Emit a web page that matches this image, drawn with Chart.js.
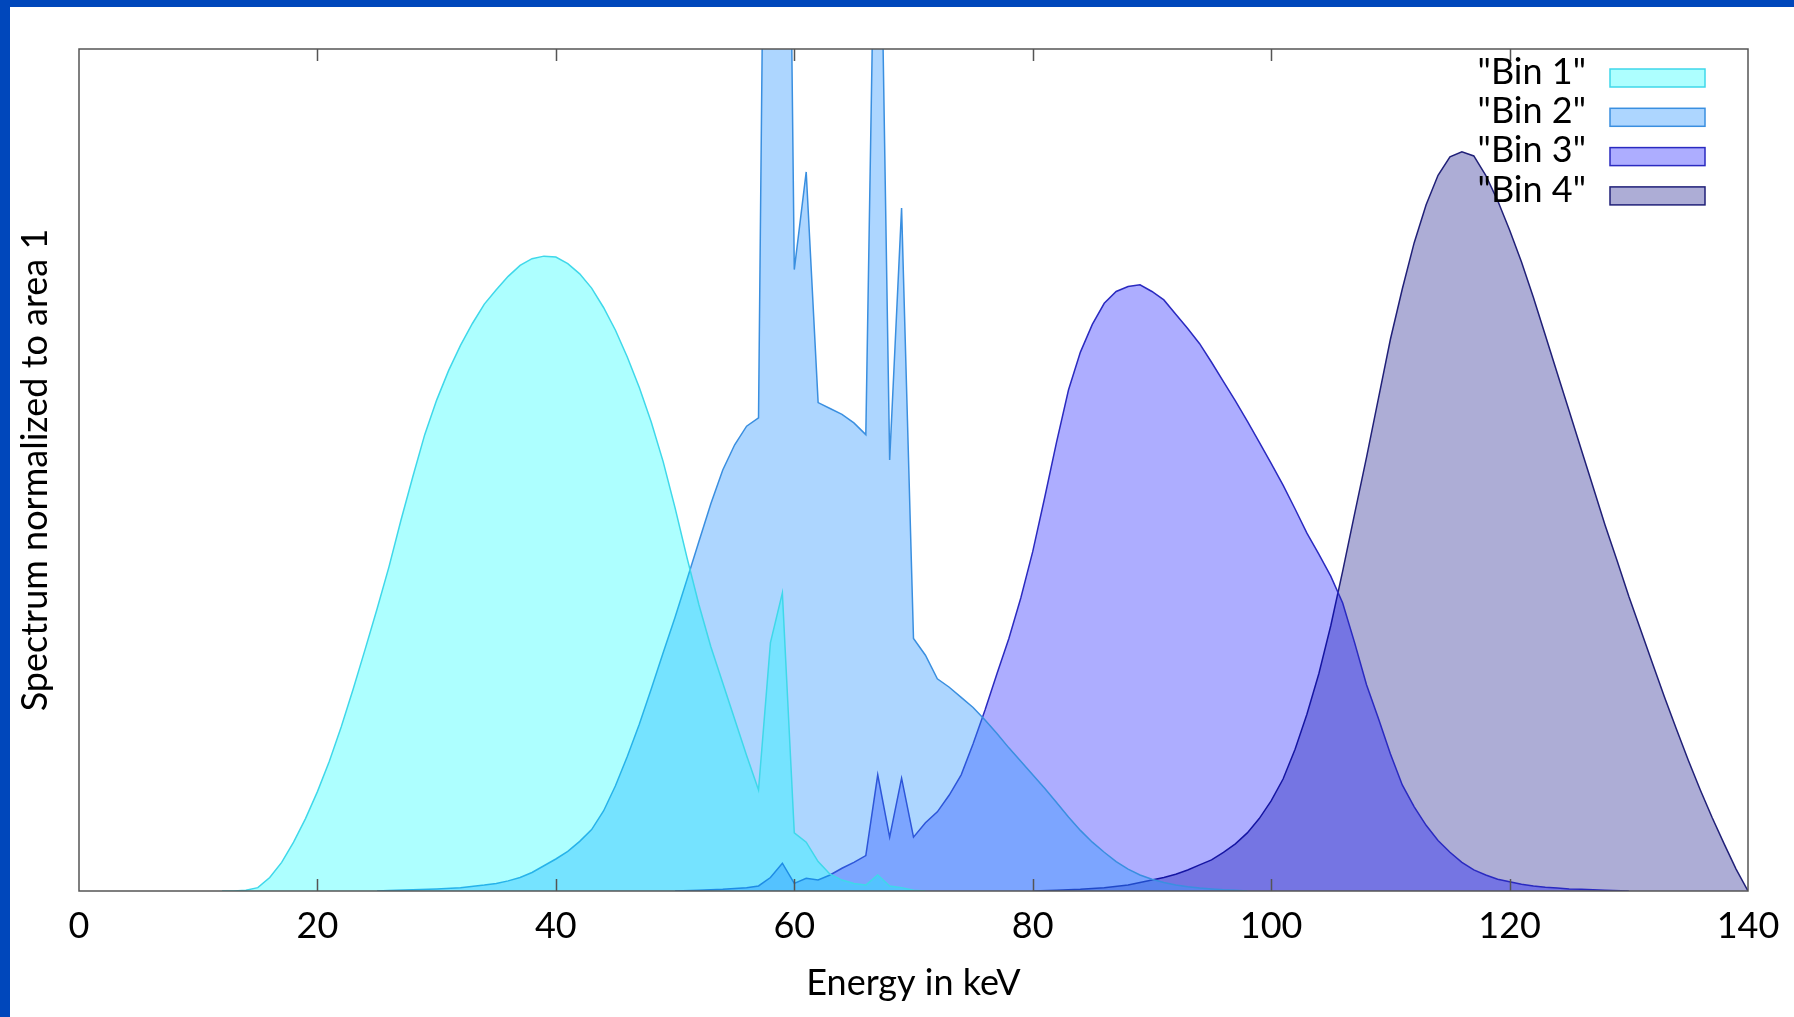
<!DOCTYPE html>
<html>
<head>
<meta charset="utf-8">
<script src="https://cdn.jsdelivr.net/npm/chart.js@4.4.1/dist/chart.umd.min.js"></script>
<style>
  html, body { margin: 0; padding: 0; background: #fff; }
  canvas { display: block; }
</style>
</head>
<body>
<canvas id="myChart" width="1794" height="1017"></canvas>
<script>
// energy (keV) and counts (y axis: arbitrary units, 0..100 = frame height)
const bin1E = [12, 13, 14, 15, 16, 17, 18, 19, 20, 21, 22, 23, 24, 25, 26, 27, 28, 29, 30, 31, 32, 33, 34, 35, 36, 37, 38, 39, 40, 41, 42, 43, 44, 45, 46, 47, 48, 49, 50, 51, 52, 53, 54, 55, 56, 57, 58, 59, 60, 61, 62, 63, 64, 65, 66, 67, 68, 69, 70, 71];
const bin1Y = [0, 0, 0.1, 0.4, 1.6, 3.4, 5.8, 8.6, 11.8, 15.4, 19.5, 24, 28.7, 33.5, 38.5, 44, 49.2, 54.2, 58.3, 61.8, 64.8, 67.4, 69.7, 71.4, 73, 74.3, 75.1, 75.4, 75.3, 74.5, 73.3, 71.6, 69.3, 66.6, 63.4, 59.8, 55.7, 51, 45.5, 39.6, 34, 29, 24.7, 20.4, 16.1, 12, 29.5, 35.4, 6.9, 5.8, 3.5, 2, 1.3, 0.9, 0.7, 1.9, 0.6, 0.4, 0.1, 0];

const bin2E = [25, 26, 28, 30, 32, 34, 35, 36, 37, 38, 39, 40, 41, 42, 43, 44, 45, 46, 47, 48, 49, 50, 51, 52, 53, 54, 55, 56, 57, 58, 59, 60, 61, 62, 63, 64, 65, 66, 67, 68, 69, 70, 71, 72, 73, 74, 75, 76, 77, 78, 79, 80, 81, 82, 83, 84, 85, 86, 87, 88, 89, 90, 91, 92, 93, 94, 95, 96, 97, 98];
const bin2Y = [0, 0.05, 0.15, 0.25, 0.4, 0.7, 0.9, 1.2, 1.6, 2.2, 3, 3.8, 4.7, 5.9, 7.3, 9.5, 12.5, 16, 19.8, 24, 28.3, 32.5, 37, 41.5, 46, 50, 53, 55.2, 56.2, 200, 200, 73.8, 85.4, 58, 57.3, 56.6, 55.6, 54.2, 140, 51.2, 81.1, 30, 28, 25.2, 24.2, 23, 21.8, 20.3, 18.7, 17, 15.4, 13.8, 12.2, 10.5, 8.8, 7.2, 5.8, 4.6, 3.5, 2.6, 1.9, 1.4, 1, 0.7, 0.5, 0.35, 0.25, 0.15, 0.1, 0];

const bin3E = [50, 52, 54, 56, 57, 58, 59, 60, 61, 62, 63, 64, 65, 66, 67, 68, 69, 70, 71, 72, 73, 74, 75, 76, 77, 78, 79, 80, 81, 82, 83, 84, 85, 86, 87, 88, 89, 90, 91, 92, 93, 94, 95, 96, 97, 98, 99, 100, 101, 102, 103, 104, 105, 106, 107, 108, 109, 110, 111, 112, 113, 114, 115, 116, 117, 118, 119, 120, 121, 122, 123, 124, 125, 126, 128, 130];
const bin3Y = [0, 0.1, 0.2, 0.4, 0.6, 1.6, 3.3, 0.9, 1.5, 1.3, 1.9, 2.7, 3.4, 4.2, 13.8, 6.4, 13.4, 6.4, 8.1, 9.4, 11.4, 13.8, 17.5, 21.5, 25.8, 30, 34.8, 40.3, 46.7, 53.3, 59.5, 64, 67.3, 69.8, 71.2, 71.8, 72, 71.2, 70.2, 68.5, 66.8, 65, 62.8, 60.5, 58.2, 55.8, 53.3, 50.8, 48.2, 45.4, 42.5, 40, 37.4, 34.2, 29.5, 24.5, 20.5, 16.3, 12.6, 10, 7.8, 6, 4.6, 3.4, 2.5, 1.9, 1.4, 1.1, 0.8, 0.6, 0.45, 0.35, 0.25, 0.2, 0.1, 0];

const bin4E = [80, 82, 84, 86, 88, 89, 90, 91, 92, 93, 94, 95, 96, 97, 98, 99, 100, 101, 102, 103, 104, 105, 106, 107, 108, 109, 110, 111, 112, 113, 114, 115, 116, 117, 118, 119, 120, 121, 122, 123, 124, 125, 126, 127, 128, 129, 130, 131, 132, 133, 134, 135, 136, 137, 138, 139, 140];
const bin4Y = [0, 0.1, 0.2, 0.4, 0.7, 1, 1.3, 1.6, 2, 2.5, 3.1, 3.7, 4.6, 5.6, 6.9, 8.6, 10.7, 13.3, 16.8, 21, 25.8, 31.5, 38, 44.8, 51.5, 58.5, 65.5, 71.5, 77, 81.5, 85, 87.2, 87.8, 87.3, 85, 82, 78.5, 74.7, 70.5, 66, 61.5, 57, 52.5, 48, 43.5, 39.3, 35, 31, 27, 23, 19.2, 15.5, 12, 8.7, 5.6, 2.6, 0];

const binLabels = ['"Bin 1"', '"Bin 2"', '"Bin 3"', '"Bin 4"'];
const xTicks = [0, 20, 40, 60, 80, 100, 120, 140];

const FONT = 'Lato';

function pts(xs, ys) {
  return xs.map((x, i) => ({ x: x, y: ys[i] }));
}

function ds(label, xs, ys, fillCol, lineCol) {
  return {
    label: label,
    data: pts(xs, ys),
    backgroundColor: fillCol,
    borderColor: lineCol,
    borderWidth: 1.5,
    pointRadius: 0,
    tension: 0,
    fill: 'origin',
    clip: 0
  };
}

const pageBg = {
  id: 'pageBg',
  beforeDraw(chart) {
    const c = chart.ctx;
    c.save();
    c.fillStyle = '#ffffff';
    c.fillRect(0, 0, chart.width, chart.height);
    c.fillStyle = '#0047bb';
    c.fillRect(0, 0, chart.width, 7);
    c.fillRect(0, 0, 10, chart.height);
    c.restore();
  }
};

// frame, inward ticks and the key in the top right corner
const frameAndKey = {
  id: 'frameAndKey',
  afterDatasetsDraw(chart) {
    const c = chart.ctx;
    const a = chart.chartArea;
    const xs = chart.scales.x;
    c.save();
    c.strokeStyle = '#555';
    c.lineWidth = 1.5;
    c.strokeRect(a.left, a.top, a.right - a.left, a.bottom - a.top);
    c.beginPath();
    xTicks.forEach(t => {
      const px = Math.round(xs.getPixelForValue(t)) + 0.5;
      if (t === 0 || t === 140) return;
      c.moveTo(px, a.bottom);
      c.lineTo(px, a.bottom - 12);
      c.moveTo(px, a.top);
      c.lineTo(px, a.top + 12);
    });
    c.stroke();

    c.font = '36px ' + FONT;
    c.textAlign = 'right';
    c.textBaseline = 'middle';
    chart.data.datasets.forEach((d, i) => {
      const y = 72 + i * 39.3;
      c.fillStyle = '#000';
      c.fillText(binLabels[i], 1586, y);
      c.fillStyle = d.backgroundColor;
      c.fillRect(1610, y - 3, 95, 18);
      c.strokeStyle = d.borderColor;
      c.lineWidth = 1.5;
      c.strokeRect(1610, y - 3, 95, 18);
    });
    c.restore();
  }
};

const ctx = document.getElementById('myChart');

const myChart = new Chart(ctx, {
  type: 'line',
  data: {
    datasets: [
      ds(binLabels[0], bin1E, bin1Y, 'rgba(0, 255, 255, 0.32)', '#3fd8ea'),
      ds(binLabels[1], bin2E, bin2Y, 'rgba(51, 153, 255, 0.4)', '#3a8fe0'),
      ds(binLabels[2], bin3E, bin3Y, 'rgba(0, 0, 255, 0.32)', '#2a2ac0'),
      ds(binLabels[3], bin4E, bin4Y, 'rgba(0, 0, 128, 0.32)', '#202078')
    ]
  },
  options: {
    responsive: false,
    animation: false,
    devicePixelRatio: 1,
    layout: { padding: { top: 49, right: 46, left: 0, bottom: 0 } },
    plugins: {
      legend: { display: false },
      tooltip: { enabled: false }
    },
    scales: {
      x: {
        type: 'linear',
        min: 0,
        max: 140,
        afterFit(scale) { scale.height = 126; },
        afterBuildTicks(scale) { scale.ticks = xTicks.map(v => ({ value: v })); },
        grid: { display: false, drawTicks: false },
        border: { display: false },
        ticks: {
          padding: 14,
          color: '#000',
          font: { family: FONT, size: 36 },
          maxRotation: 0
        },
        title: {
          display: true,
          text: 'Energy in keV',
          color: '#000',
          font: { family: FONT, size: 36 },
          padding: { top: 0, bottom: 12 }
        }
      },
      y: {
        min: 0,
        max: 100,
        afterFit(scale) { scale.width = 79; },
        grid: { display: false, drawTicks: false },
        border: { display: false },
        ticks: { display: false },
        title: {
          display: true,
          text: 'Spectrum normalized to area 1',
          color: '#000',
          font: { family: FONT, size: 36 },
          padding: { top: 14, bottom: 0 }
        }
      }
    }
  },
  plugins: [pageBg, frameAndKey]
});
</script>
</body>
</html>
